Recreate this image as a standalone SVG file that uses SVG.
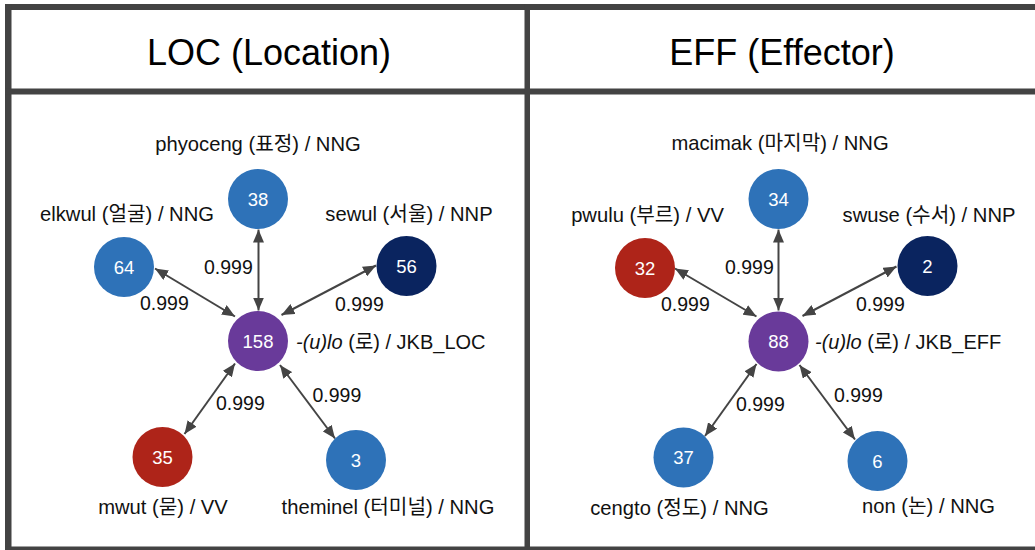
<svg xmlns="http://www.w3.org/2000/svg" width="1035" height="550" viewBox="0 0 1035 550">
<style>
.frame{fill:#434343}
.title{font-family:"Liberation Sans",Arial,sans-serif;font-size:36px;fill:#000;text-anchor:middle}
.lbl{font-family:"Liberation Sans","Noto Sans CJK KR",sans-serif;font-size:20.2px;fill:#111;text-anchor:middle}
.lbl.start{text-anchor:start;font-size:20px}
.num{font-family:"Liberation Sans",Arial,sans-serif;font-size:18.5px;fill:#fff;text-anchor:middle}
.w{font-family:"Liberation Sans",Arial,sans-serif;font-size:19.5px;fill:#111;text-anchor:start}
.edge{stroke:#444;stroke-width:2;fill:none;marker-start:url(#ah);marker-end:url(#ah)}
.blue{fill:#2e72b8}
.navy{fill:#0a245f}
.red{fill:#ae2419}
.purple{fill:#693a9a}
</style>
<defs>
<marker id="ah" markerUnits="userSpaceOnUse" markerWidth="13" markerHeight="11" refX="13" refY="5.5" orient="auto-start-reverse" viewBox="0 0 13 11">
<path d="M0,0 L13,5.5 L0,11 z" fill="#444"/>
</marker>
</defs>
<rect width="1035" height="550" fill="#fff"/>
<g id="frame">
<rect class="frame" x="5" y="4" width="1030" height="6"/>
<rect class="frame" x="5" y="4" width="6.5" height="546"/>
<rect class="frame" x="5" y="88.5" width="1030" height="6"/>
<rect class="frame" x="524.5" y="4" width="5.5" height="546"/>
<rect class="frame" x="5" y="546.5" width="1030" height="4"/>
</g>
<text class="title" x="269" y="65">LOC (Location)</text>
<text class="title" x="782" y="65">EFF (Effector)</text>
<g id="connectors">
<line class="edge" x1="258.5" y1="310.5" x2="258.5" y2="229.5"/>
<line class="edge" x1="235" y1="316.5" x2="155" y2="268.5"/>
<line class="edge" x1="281.5" y1="315" x2="376" y2="265.5"/>
<line class="edge" x1="235" y1="363.5" x2="184.5" y2="434"/>
<line class="edge" x1="280" y1="365" x2="335" y2="438.5"/>
<line class="edge" x1="778.5" y1="310.5" x2="778.5" y2="229.5"/>
<line class="edge" x1="756.5" y1="316.5" x2="675" y2="268.5"/>
<line class="edge" x1="802.5" y1="316" x2="896.5" y2="266.5"/>
<line class="edge" x1="756.5" y1="364" x2="705" y2="436"/>
<line class="edge" x1="799.5" y1="365" x2="855" y2="439.5"/>
</g>
<g id="edge-labels">
<text class="w" x="204" y="273.5">0.999</text>
<text class="w" x="140" y="310">0.999</text>
<text class="w" x="335" y="310.5">0.999</text>
<text class="w" x="216" y="409.5">0.999</text>
<text class="w" x="312.5" y="401.5">0.999</text>
<text class="w" x="725" y="274">0.999</text>
<text class="w" x="661" y="310.5">0.999</text>
<text class="w" x="856" y="310.5">0.999</text>
<text class="w" x="736" y="410.5">0.999</text>
<text class="w" x="834" y="401.5">0.999</text>
</g>
<g id="loc-center">
<circle class="purple" cx="258" cy="341" r="30"/>
<text class="num" x="258" y="347.5">158</text>
<text class="lbl start" x="296" y="349"><tspan font-style="italic">-(u)lo</tspan> (로) / JKB_LOC</text>
</g>
<g id="loc-phyoceng">
<circle class="blue" cx="258" cy="199" r="30"/>
<text class="num" x="258" y="205.5">38</text>
<text class="lbl" x="258" y="151">phyoceng (표정) / NNG</text>
</g>
<g id="loc-elkwul">
<circle class="blue" cx="124" cy="267" r="30"/>
<text class="num" x="124" y="273.5">64</text>
<text class="lbl" x="127" y="221">elkwul (얼굴) / NNG</text>
</g>
<g id="loc-sewul">
<circle class="navy" cx="406.5" cy="266" r="30"/>
<text class="num" x="406.5" y="272.5">56</text>
<text class="lbl" x="409" y="221">sewul (서울) / NNP</text>
</g>
<g id="loc-mwut">
<circle class="red" cx="162.5" cy="457" r="30"/>
<text class="num" x="162.5" y="463.5">35</text>
<text class="lbl" x="163" y="514">mwut (묻) / VV</text>
</g>
<g id="loc-theminel">
<circle class="blue" cx="356" cy="460" r="30"/>
<text class="num" x="356" y="466.5">3</text>
<text class="lbl" x="388" y="514">theminel (터미널) / NNG</text>
</g>
<g id="eff-center">
<circle class="purple" cx="778.5" cy="341.5" r="30"/>
<text class="num" x="778.5" y="348">88</text>
<text class="lbl start" x="815" y="348.5"><tspan font-style="italic">-(u)lo</tspan> (로) / JKB_EFF</text>
</g>
<g id="eff-macimak">
<circle class="blue" cx="778.5" cy="199" r="30"/>
<text class="num" x="778.5" y="205.5">34</text>
<text class="lbl" x="780" y="150">macimak (마지막) / NNG</text>
</g>
<g id="eff-pwulu">
<circle class="red" cx="645" cy="268" r="30"/>
<text class="num" x="645" y="274.5">32</text>
<text class="lbl" x="647.5" y="222">pwulu (부르) / VV</text>
</g>
<g id="eff-swuse">
<circle class="navy" cx="927.5" cy="266" r="30"/>
<text class="num" x="927.5" y="272.5">2</text>
<text class="lbl" x="929" y="222">swuse (수서) / NNP</text>
</g>
<g id="eff-cengto">
<circle class="blue" cx="683.5" cy="457.5" r="30"/>
<text class="num" x="683.5" y="464">37</text>
<text class="lbl" x="679.5" y="515">cengto (정도) / NNG</text>
</g>
<g id="eff-non">
<circle class="blue" cx="877.5" cy="461" r="30"/>
<text class="num" x="877.5" y="467.5">6</text>
<text class="lbl" x="928.5" y="513">non (논) / NNG</text>
</g>
</svg>
